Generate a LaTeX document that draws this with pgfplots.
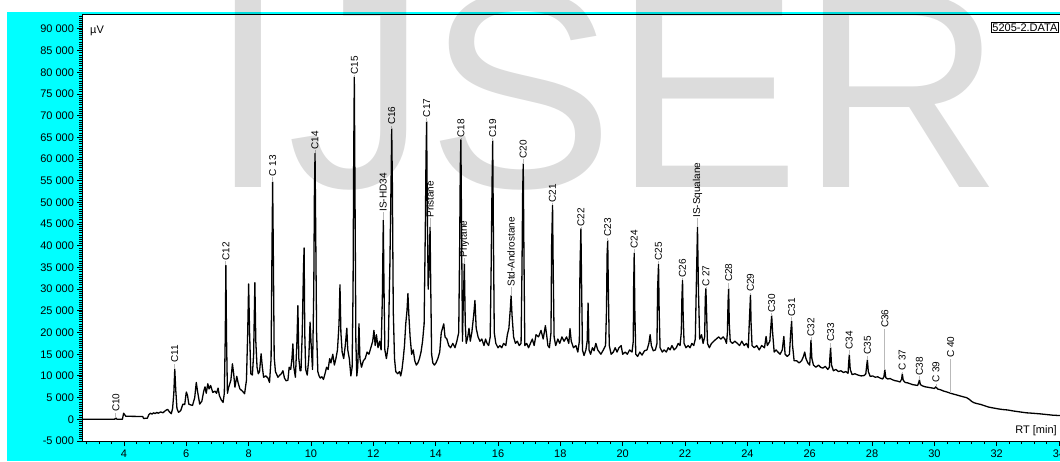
\documentclass[border=0pt]{standalone}
\usepackage{fontspec}
\setmainfont{Liberation Sans}
\usepackage{pgfplots}
\pgfplotsset{compat=1.18}
\definecolor{cyanbg}{RGB}{0,255,255}
\definecolor{lblline}{RGB}{185,185,185}
\newcommand{\pk}[4]{% t, apex, label bottom, text
  \draw[lblline, line width=0.8pt] (axis cs:#1,#2) -- (axis cs:#1,#3);
  \node[rotate=90, anchor=west, inner sep=0.6pt, font=\fontsize{10}{11}\selectfont] at (axis cs:#1,#3) {#4};}
\begin{document}
\begin{tikzpicture}
\useasboundingbox (0pt,0pt) rectangle (1060pt,461pt);
\fill[white] (0pt,0pt) rectangle (1060pt,461pt);
\fill[cyanbg] (7pt,0pt) rectangle (1060pt,449pt);
\begin{axis}[
  at={(82.5pt,20pt)}, anchor=south west,
  scale only axis, width=982.8pt, height=426pt,
  xmin=2.67, xmax=34.2, ymin=-5000, ymax=93200,
  axis background/.style={fill=white},
  axis line style={black, line width=1pt},
  clip mode=individual,
  xtick={4,6,...,34},
  xticklabels={4,6,8,10,12,14,16,18,20,22,24,26,28,30,32,34},
  ytick={-5000,0,5000,10000,15000,20000,25000,30000,35000,40000,45000,50000,55000,60000,65000,70000,75000,80000,85000,90000},
  yticklabels={-5 000,0,5 000,10 000,15 000,20 000,25 000,30 000,35 000,40 000,45 000,50 000,55 000,60 000,65 000,70 000,75 000,80 000,85 000,90 000},
  minor xtick={2.8,3.2,...,34.1},
  minor ytick={-5000,-4500,...,93000},
  xtick pos=left, ytick pos=left,
  tick align=outside,
  major tick length=5pt, minor tick length=3pt,
  every tick/.style={black, line width=0.9pt},
  every minor tick/.style={black, line width=0.7pt},
  tick label style={font=\fontsize{11}{12}\selectfont},
  scaled ticks=false,
]
\addplot[black, line width=1.3pt, line join=round, mark=none] table {
t v
2.67 0
3.70 0
3.74 300
3.78 0
3.95 0
3.99 1400
4.03 1000
4.06 700
4.60 650
4.63 200
4.75 250
4.80 1100
4.85 1400
4.90 1200
4.95 1500
5.00 1300
5.05 1600
5.10 1400
5.18 1700
5.25 1500
5.33 2000
5.40 2300
5.45 1800
5.52 1300
5.56 2500
5.60 6000
5.63 11600
5.66 7000
5.70 2500
5.75 1600
5.82 2000
5.89 3500
5.95 3400
6.00 6300
6.04 5500
6.08 3500
6.15 3300
6.20 3200
6.27 5000
6.32 8500
6.36 6500
6.43 3500
6.50 4200
6.56 6500
6.60 7500
6.64 6000
6.69 8200
6.73 7000
6.78 7800
6.85 6200
6.92 6500
6.97 6000
7.02 7200
7.06 5500
7.12 4500
7.18 3900
7.22 6000
7.25 19000
7.27 35500
7.29 19000
7.32 6000
7.36 7400
7.43 9000
7.48 12800
7.52 10500
7.56 7400
7.62 9900
7.66 8500
7.72 7000
7.80 6500
7.87 5900
7.93 9000
7.97 20000
8.00 31200
8.03 20000
8.07 10500
8.12 10200
8.16 15000
8.20 31500
8.23 18000
8.27 12000
8.31 10500
8.35 11000
8.40 15100
8.44 12000
8.48 9700
8.55 10000
8.62 9500
8.67 8500
8.72 14000
8.75 40000
8.77 54700
8.79 40000
8.82 14300
8.86 11000
8.94 9700
9.00 10200
9.05 10500
9.10 11200
9.15 9500
9.20 8900
9.26 9000
9.30 12000
9.35 11500
9.39 14000
9.42 17400
9.45 12000
9.50 9700
9.55 18000
9.58 26200
9.61 14000
9.65 11200
9.68 11200
9.72 20000
9.76 35000
9.78 39500
9.80 20000
9.83 11500
9.88 10200
9.93 14000
9.97 22400
10.00 18000
10.05 11500
10.09 30000
10.11 52000
10.13 61300
10.15 45000
10.18 20000
10.22 11000
10.26 10000
10.30 9500
10.35 9800
10.40 9200
10.45 10500
10.50 12000
10.55 11500
10.60 14000
10.64 13000
10.70 15000
10.75 12500
10.80 14000
10.85 16000
10.90 22000
10.93 31000
10.96 20000
11.00 15500
11.05 14000
11.10 17000
11.15 21000
11.18 16000
11.23 14000
11.28 10000
11.32 12000
11.35 30000
11.37 60000
11.39 78900
11.41 55000
11.44 18000
11.47 10000
11.50 12000
11.54 22000
11.57 14000
11.62 12000
11.68 13500
11.74 14000
11.80 15500
11.86 15000
11.92 16500
11.98 18000
12.02 20500
12.06 17000
12.10 19500
12.15 16500
12.20 18000
12.25 16000
12.29 28000
12.32 45900
12.34 32000
12.37 16000
12.42 14000
12.48 17000
12.53 35000
12.57 55000
12.59 67000
12.61 55000
12.64 25000
12.68 14000
12.72 11000
12.78 10500
12.84 11000
12.88 10000
12.92 11500
12.96 14000
13.00 17000
13.04 22000
13.08 25000
13.11 29000
13.14 24000
13.18 19000
13.23 15000
13.28 16000
13.33 13500
13.38 12500
13.43 13000
13.48 14000
13.53 15500
13.58 18000
13.63 22000
13.67 45000
13.69 60000
13.71 68600
13.73 50000
13.76 30000
13.80 38000
13.82 44300
13.84 32000
13.87 15000
13.91 13000
13.96 12500
14.01 13000
14.07 14000
14.13 15500
14.18 20000
14.22 21000
14.26 22000
14.30 19000
14.36 18500
14.42 17000
14.48 16500
14.55 17500
14.62 16500
14.68 18000
14.74 20000
14.77 40000
14.79 58000
14.81 64500
14.83 45000
14.86 18000
14.88 25000
14.92 35900
14.95 22000
14.98 17500
15.03 19000
15.07 21000
15.11 18000
15.16 20000
15.22 24000
15.26 27400
15.30 21000
15.36 19000
15.42 18000
15.48 18500
15.55 17000
15.60 18500
15.65 17500
15.70 17000
15.75 19000
15.78 35000
15.81 55000
15.83 64200
15.85 45000
15.88 20000
15.93 17500
16.00 16500
16.06 17000
16.12 16500
16.18 17500
16.25 17000
16.30 19500
16.35 21000
16.40 26000
16.42 28500
16.45 24000
16.50 19000
16.56 17500
16.62 18000
16.68 17000
16.74 17500
16.77 35000
16.79 52000
16.81 58900
16.83 40000
16.86 17000
16.92 17500
16.98 16500
17.04 17500
17.10 18500
17.16 17000
17.22 19500
17.30 19000
17.38 20500
17.45 18500
17.52 21600
17.56 19500
17.60 17000
17.65 16500
17.70 20000
17.72 40000
17.75 49300
17.77 35000
17.80 19000
17.85 17000
17.92 18500
17.98 17500
18.05 19000
18.12 18000
18.20 19000
18.27 17500
18.31 20900
18.35 18000
18.42 16500
18.50 17000
18.56 15500
18.61 18000
18.63 35000
18.66 43900
18.68 32000
18.71 16000
18.76 14700
18.82 16000
18.86 18000
18.89 26800
18.92 16000
18.97 15000
19.03 16500
19.08 15800
19.14 17500
19.20 16000
19.25 15500
19.30 15000
19.38 16000
19.45 17000
19.48 25000
19.50 38000
19.52 41200
19.54 30000
19.57 17000
19.63 15000
19.70 15500
19.76 16500
19.82 15500
19.88 16500
19.95 17000
20.00 15000
20.08 15500
20.15 15000
20.22 16000
20.30 15500
20.34 18000
20.35 30000
20.37 38300
20.39 25000
20.42 15000
20.48 14500
20.55 15500
20.62 14800
20.70 15800
20.78 16000
20.84 17500
20.88 19500
20.92 17000
20.98 15800
21.05 16000
21.10 17500
21.12 30000
21.15 35700
21.17 25000
21.20 16500
21.27 15500
21.33 16000
21.40 15500
21.46 16500
21.52 16000
21.58 17000
21.65 16000
21.72 16500
21.78 17500
21.84 17000
21.88 20000
21.90 28000
21.92 32000
21.94 24000
21.97 17500
22.03 16500
22.10 17000
22.16 16500
22.22 17500
22.28 17000
22.33 18500
22.36 30000
22.40 44300
22.43 30000
22.47 18500
22.53 19500
22.58 17500
22.63 19000
22.65 28000
22.67 30100
22.69 25000
22.72 17500
22.78 16500
22.85 17500
22.92 18000
23.00 18500
23.08 19000
23.15 18500
23.22 19000
23.28 18500
23.33 17500
23.36 20000
23.38 27000
23.40 30100
23.42 22000
23.45 18000
23.52 17500
23.60 18000
23.68 17500
23.75 17000
23.82 18000
23.90 17000
23.97 17500
24.03 16500
24.06 22000
24.09 27000
24.10 28700
24.12 22000
24.15 17000
24.22 16500
24.30 17000
24.38 16000
24.46 17000
24.55 16500
24.60 19100
24.64 17000
24.72 18000
24.75 21000
24.78 23900
24.81 20000
24.86 15500
24.92 16000
24.98 15500
25.05 15000
25.12 16000
25.17 19100
25.21 15000
25.28 14500
25.35 15000
25.39 20000
25.42 22600
25.45 17000
25.50 13500
25.58 13500
25.66 13000
25.74 13500
25.80 14500
25.84 15500
25.88 14000
25.94 13000
26.00 12500
26.02 15000
26.04 18200
26.07 14000
26.12 12500
26.20 12000
26.28 12500
26.35 12000
26.42 11800
26.50 12200
26.58 11500
26.63 12000
26.65 14500
26.67 16500
26.70 12500
26.76 11200
26.84 11500
26.92 11000
27.00 11200
27.08 10800
27.16 11000
27.23 10600
27.25 13000
27.27 14900
27.30 11500
27.36 10300
27.45 10500
27.55 10200
27.65 10000
27.75 10100
27.80 10500
27.83 12500
27.85 13700
27.88 11000
27.94 9900
28.02 10000
28.10 9700
28.18 9800
28.26 9500
28.34 9300
28.38 9800
28.41 11400
28.44 9600
28.50 9300
28.58 9400
28.66 9100
28.74 8900
28.82 8800
28.90 8600
28.95 9300
28.97 10500
29.00 9000
29.06 8500
29.14 8400
29.22 8200
29.30 8000
29.38 7900
29.46 7800
29.50 8500
29.52 9100
29.55 8000
29.62 7700
29.70 7500
29.78 7400
29.86 7300
29.94 7200
30.00 7100
30.05 7500
30.10 7000
30.20 6800
30.30 6500
30.40 6300
30.52 6000
30.62 5800
30.72 5600
30.82 5400
30.92 5200
31.03 5000
31.12 4600
31.20 4100
31.28 3800
31.38 3600
31.50 3400
31.62 3100
31.75 2800
31.90 2600
32.05 2400
32.20 2250
32.35 2150
32.55 1900
32.75 1700
32.95 1500
33.15 1400
33.40 1250
33.60 1100
33.80 950
34.20 800
};
\pk{3.74}{300}{1550}{C10}
\pk{5.63}{11600}{12860}{C11}
\pk{7.27}{35500}{36400}{C12}
\pk{8.77}{54700}{55900}{C 13}
\pk{10.13}{61300}{62000}{C14}
\pk{11.39}{78900}{79300}{C15}
\pk{12.32}{45900}{47700}{IS-HD34}
\pk{12.59}{67000}{67700}{C16}
\pk{13.71}{68600}{69500}{C17}
\pk{13.82}{44300}{46300}{Pristane}
\pk{14.81}{64500}{64800}{C18}
\pk{14.92}{35900}{37100}{Phytane}
\pk{15.83}{64200}{64800}{C19}
\pk{16.42}{28500}{30400}{Std-Androstane}
\pk{16.81}{58900}{59900}{C20}
\pk{17.75}{49300}{49800}{C21}
\pk{18.66}{43900}{44300}{C22}
\pk{19.52}{41200}{41900}{C23}
\pk{20.37}{38300}{39200}{C24}
\pk{21.15}{35700}{36400}{C25}
\pk{21.92}{32000}{32500}{C26}
\pk{22.40}{44300}{46300}{IS-Squalane}
\pk{22.67}{30100}{30400}{C 27}
\pk{23.40}{30100}{31500}{C28}
\pk{24.10}{28700}{29200}{C29}
\pk{24.78}{23900}{24400}{C30}
\pk{25.42}{22600}{23500}{C31}
\pk{26.04}{18200}{18900}{C32}
\pk{26.67}{16500}{17700}{C33}
\pk{27.27}{14900}{15900}{C34}
\pk{27.85}{13700}{14700}{C35}
\pk{28.41}{11400}{20900}{C36}
\pk{28.97}{10500}{11000}{C 37}
\pk{29.52}{9100}{9900}{C38}
\pk{30.05}{7500}{8200}{C 39}
\pk{30.52}{6000}{14000}{C 40}
\node[anchor=west, inner sep=0pt, font=\fontsize{11}{12}\selectfont] at (axis cs:2.91,89500) {µV};
\node[anchor=east, inner sep=0pt, font=\fontsize{11}{12}\selectfont] at (axis cs:33.93,-2600) {RT [min]};
\node[anchor=north east, draw=black, line width=0.9pt, fill=white, inner sep=1.2pt, font=\fontsize{11}{12}\selectfont] at (axis cs:34.0,91600) {5205-2.DATA};
\end{axis}
\node[anchor=base west, inner sep=0pt, font=\fontsize{280}{280}\selectfont, text=black, text opacity=0.137] at (209pt,273pt) {IJSER};
\end{tikzpicture}
\end{document}
